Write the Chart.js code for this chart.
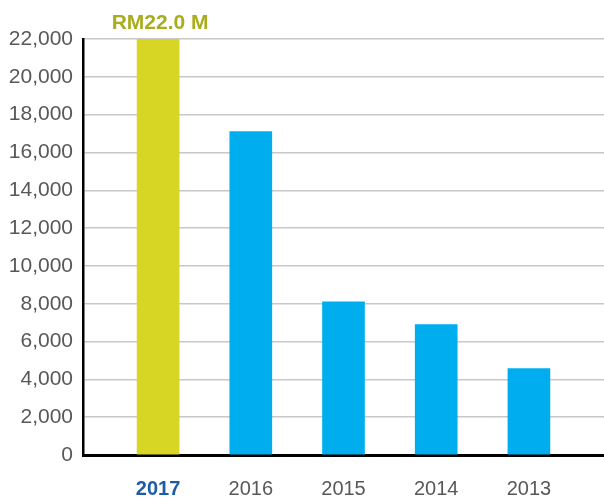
<!DOCTYPE html>
<html>
<head>
<meta charset="utf-8">
<script src="https://cdn.jsdelivr.net/npm/chart.js@4/dist/chart.umd.min.js"></script>
<style>
html,body{margin:0;padding:0;background:#fff;}
#wrap{width:604px;height:504px;}
</style>
</head>
<body>
<div id="wrap"><canvas id="c" width="604" height="504"></canvas></div>
<script>
const years = ["2017", "2016", "2015", "2014", "2013"];
const values = [22000, 17100, 8100, 6900, 4570];
const yTicks = [0, 2000, 4000, 6000, 8000, 10000, 12000, 14000, 16000, 18000, 20000, 22000];
const highlightLabel = "RM22.0 M";

const FONT = "'Liberation Sans', Arial, sans-serif";

const barColors = years.map((y, i) => i === 0 ? '#d7d624' : '#00aeef');

const topLabel = {
  id: 'topLabel',
  afterDatasetsDraw(chart) {
    const el = chart.getDatasetMeta(0).data[0];
    const ctx = chart.ctx;
    ctx.save();
    ctx.font = "bold 21px " + FONT;
    ctx.fillStyle = '#a9ad1d';
    ctx.textAlign = 'center';
    ctx.textBaseline = 'alphabetic';
    ctx.fillText(highlightLabel, el.x + 2, el.y - 10);
    ctx.restore();
  }
};

new Chart(document.getElementById('c'), {
  type: 'bar',
  data: {
    datasets: [{
      data: values.map((v, i) => ({ x: i, y: v })),
      backgroundColor: barColors,
      barThickness: 42,
      borderWidth: 0
    }]
  },
  options: {
    responsive: false,
    animation: false,
    events: [],
    layout: { padding: { top: 39, right: 0, bottom: 0, left: 0 } },
    plugins: { legend: { display: false }, tooltip: { enabled: false } },
    scales: {
      x: {
        type: 'linear',
        offset: false,
        min: -0.81,
        max: 4.81,
        grid: { display: false, drawTicks: false },
        border: { display: true, color: '#000', width: 3 },
        afterFit(s) { s.height = 49; },
        ticks: {
          stepSize: 1,
          includeBounds: false,
          padding: 22,
          autoSkip: false,
          maxRotation: 0,
          callback: (v) => (Number.isInteger(v) && years[v] !== undefined) ? years[v] : '',
          color: (ctx) => ctx.tick && ctx.tick.value === 0 ? '#1d5ca8' : '#58585a',
          font: (ctx) => ({ family: FONT, size: 20, weight: ctx.tick && ctx.tick.value === 0 ? 'bold' : 'normal' })
        }
      },
      y: {
        min: 0,
        max: 22000,
        afterFit(s) { s.width = 83; },
        afterBuildTicks(s) { s.ticks = yTicks.map(v => ({ value: v })); },
        grid: { color: '#c8c8c8', lineWidth: 1.5, drawTicks: false },
        border: { display: true, color: '#000', width: 2.5 },
        ticks: {
          padding: 10,
          color: '#58585a',
          font: { family: FONT, size: 21 },
          callback: (v) => v.toLocaleString('en-US')
        }
      }
    }
  },
  plugins: [topLabel]
});
</script>
</body>
</html>
